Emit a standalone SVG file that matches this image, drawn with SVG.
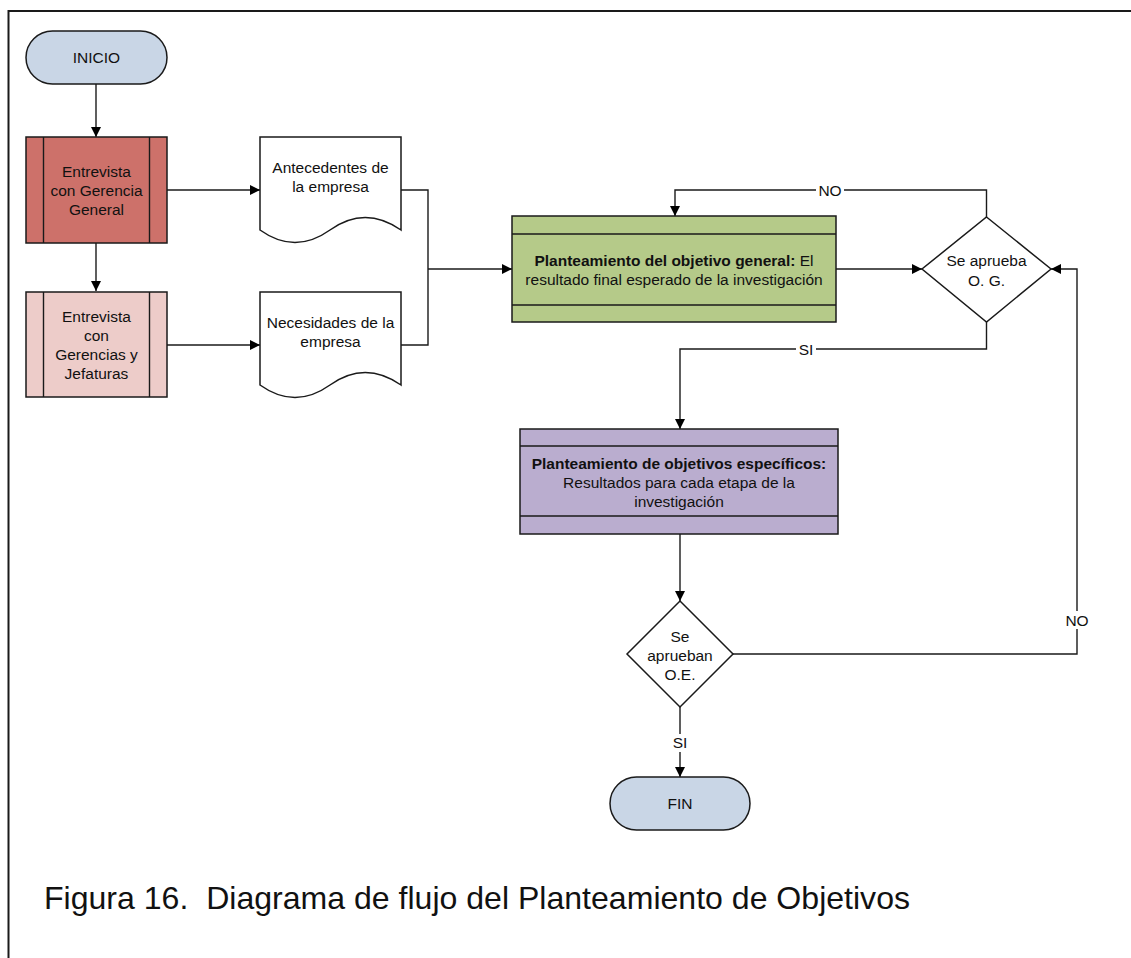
<svg xmlns="http://www.w3.org/2000/svg" width="1131" height="958" viewBox="0 0 1131 958">
  <defs>
    <marker id="arrow" viewBox="0 0 10 10" refX="10" refY="5" markerWidth="10" markerHeight="10" markerUnits="userSpaceOnUse" orient="auto">
      <path d="M0,0 L10,5 L0,10 Z" fill="#000"/>
    </marker>
    <style>
      .shape { stroke: #1a1a1a; stroke-width: 1.5; }
      .term { fill: #C9D6E6; }
      .white { fill: #ffffff; }
      .line { fill: none; stroke: #1a1a1a; stroke-width: 1.4; }
      .conn { fill: none; stroke: #1a1a1a; stroke-width: 1.4; }
      .lbl { font-family: "Liberation Sans", Arial, sans-serif; font-size: 15.5px; fill: #111; text-anchor: middle; }
      .b { font-weight: bold; }
      .edge { font-family: "Liberation Sans", Arial, sans-serif; font-size: 15.5px; fill: #111; text-anchor: middle; }
      .bg { fill: #ffffff; }
      .caption { font-family: "Liberation Sans", Arial, sans-serif; font-size: 31.5px; fill: #111; }
    </style>
  </defs>

  <rect width="1131" height="958" fill="#ffffff"/>
  <!-- page frame -->
  <path d="M1131,11 H8.5 V958" fill="none" stroke="#1a1a1a" stroke-width="2"/>

  <!-- connectors -->
  <g id="connectors">
    <path class="conn" d="M96,84 V137" marker-end="url(#arrow)"/>
    <path class="conn" d="M96,243 V291" marker-end="url(#arrow)"/>
    <path class="conn" d="M167,190 H260" marker-end="url(#arrow)"/>
    <path class="conn" d="M167,345 H260" marker-end="url(#arrow)"/>
    <path class="conn" d="M401,190 H428 V345 H401"/>
    <path class="conn" d="M428,269 H512" marker-end="url(#arrow)"/>
    <path class="conn" d="M836,269 H922" marker-end="url(#arrow)"/>
    <path class="conn" d="M986.5,217 V190 H675 V216" marker-end="url(#arrow)"/>
    <path class="conn" d="M986.5,322 V349 H680 V429" marker-end="url(#arrow)"/>
    <path class="conn" d="M680,534 V601" marker-end="url(#arrow)"/>
    <path class="conn" d="M733,654 H1077 V269 H1051" marker-end="url(#arrow)"/>
    <path class="conn" d="M680,707 V777" marker-end="url(#arrow)"/>
    <!-- edge labels -->
    <rect class="bg" x="816" y="182" width="28" height="17"/>
    <text class="edge" x="830" y="195.5">NO</text>
    <rect class="bg" x="796" y="341" width="20" height="17"/>
    <text class="edge" x="806" y="354.5">SI</text>
    <rect class="bg" x="1062" y="611" width="30" height="18"/>
    <text class="edge" x="1077" y="625.5">NO</text>
    <rect class="bg" x="669" y="734" width="22" height="18"/>
    <text class="edge" x="680" y="747.5">SI</text>
  </g>

  <!-- INICIO -->
  <g id="inicio">
    <rect class="shape term" x="26" y="31" width="141" height="53" rx="26.5" ry="26.5"/>
    <text class="lbl" x="96.5" y="63">INICIO</text>
  </g>

  <!-- Entrevista con Gerencia General -->
  <g id="entrevista-gerencia-general">
    <rect class="shape" x="26" y="137" width="141" height="106" fill="#CD716A"/>
    <path class="line" d="M43.5,137 V243 M149.5,137 V243"/>
    <text class="lbl" x="96.5" y="176.5">Entrevista</text>
    <text class="lbl" x="96.5" y="195.5">con Gerencia</text>
    <text class="lbl" x="96.5" y="214.5">General</text>
  </g>

  <!-- Entrevista con Gerencias y Jefaturas -->
  <g id="entrevista-gerencias-jefaturas">
    <rect class="shape" x="26" y="292" width="141" height="105" fill="#EDCCC9"/>
    <path class="line" d="M43.5,292 V397 M149.5,292 V397"/>
    <text class="lbl" x="96.5" y="321.5">Entrevista</text>
    <text class="lbl" x="96.5" y="340.5">con</text>
    <text class="lbl" x="96.5" y="359.5">Gerencias y</text>
    <text class="lbl" x="96.5" y="378.5">Jefaturas</text>
  </g>

  <!-- Antecedentes de la empresa -->
  <g id="antecedentes">
    <path class="shape white" d="M260,137 H401 V230 Q365,205 330,230 Q295,255 260,230 Z"/>
    <text class="lbl" x="330.5" y="172.5">Antecedentes de</text>
    <text class="lbl" x="330.5" y="191.5">la empresa</text>
  </g>

  <!-- Necesidades de la empresa -->
  <g id="necesidades">
    <path class="shape white" d="M260,292 H401 V385 Q365,360 330,385 Q295,410 260,385 Z"/>
    <text class="lbl" x="330.5" y="327.5">Necesidades de la</text>
    <text class="lbl" x="330.5" y="346.5">empresa</text>
  </g>

  <!-- Planteamiento del objetivo general -->
  <g id="objetivo-general">
    <rect class="shape" x="512" y="216" width="324" height="106" fill="#B5CA89"/>
    <path class="line" d="M512,234 H836 M512,305 H836"/>
    <text class="lbl" x="674" y="265.5"><tspan class="b">Planteamiento del objetivo general:</tspan> El</text>
    <text class="lbl" x="674" y="284.5">resultado final esperado de la investigación</text>
  </g>

  <!-- Se aprueba O. G. -->
  <g id="aprueba-og">
    <path class="shape white" d="M986.5,217 L1051,269 L986.5,322 L922,269 Z"/>
    <text class="lbl" x="986.5" y="265.5">Se aprueba</text>
    <text class="lbl" x="986.5" y="286">O. G.</text>
  </g>

  <!-- Planteamiento de objetivos especificos -->
  <g id="objetivos-especificos">
    <rect class="shape" x="520" y="429" width="318" height="105" fill="#BAADCF"/>
    <path class="line" d="M520,446 H838 M520,516 H838"/>
    <text class="lbl b" x="679" y="468.5">Planteamiento de objetivos específicos:</text>
    <text class="lbl" x="679" y="487.5">Resultados para cada etapa de la</text>
    <text class="lbl" x="679" y="506.5">investigación</text>
  </g>

  <!-- Se aprueban O.E. -->
  <g id="aprueban-oe">
    <path class="shape white" d="M680,601 L733,654 L680,707 L627,654 Z"/>
    <text class="lbl" x="680" y="641.5">Se</text>
    <text class="lbl" x="680" y="660.5">aprueban</text>
    <text class="lbl" x="680" y="679.5">O.E.</text>
  </g>

  <!-- FIN -->
  <g id="fin">
    <rect class="shape term" x="610" y="777" width="140" height="53" rx="26.5" ry="26.5"/>
    <text class="lbl" x="680" y="808.5">FIN</text>
  </g>

  <!-- caption -->
  <text class="caption" x="44" y="909" xml:space="preserve" textLength="866" lengthAdjust="spacingAndGlyphs">Figura 16.  Diagrama de flujo del Planteamiento de Objetivos</text>
</svg>
